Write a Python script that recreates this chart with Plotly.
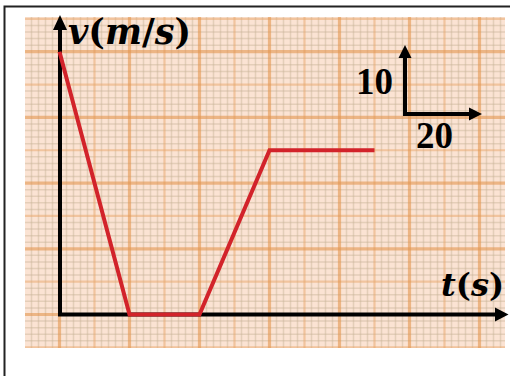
import plotly.graph_objects as go

# Velocity-time data
time_s = [0, 20, 40, 60, 90]
velocity_ms = [40, 0, 0, 25, 25]

# Scale legend values
scale_v = "10"
scale_t = "20"

W, H = 510, 376
ML, MR, MT, MB = 25, 5, 17, 28
PW, PH = W - ML - MR, H - MT - MB

# Axis ranges (graph-paper area)
X0_PX, Y0_PX = 59.5, 314.5          # pixel of t=0, v=0
SX, SY = 3.5, 6.57                  # pixels per unit
x_range = [(ML - X0_PX) / SX, (ML + PW - X0_PX) / SX]
y_range = [(Y0_PX - (MT + PH)) / SY, (Y0_PX - MT) / SY]


def px(x):
    return (x - ML) / PW


def py(y):
    return (MT + PH - y) / PH


shapes = []

# graph paper: minor, medium and major rulings
def vline(t, color, width):
    shapes.append(dict(type="line", xref="x", yref="paper", x0=t, x1=t, y0=0, y1=1,
                       line=dict(color=color, width=width), layer="below"))


def hline(v, color, width):
    shapes.append(dict(type="line", xref="paper", yref="y", x0=0, x1=1, y0=v, y1=v,
                       line=dict(color=color, width=width), layer="below"))


minor_c = "rgba(200,180,150,0.45)"
mid_c = "rgba(232,165,105,0.5)"
major_c = "rgba(226,150,80,0.6)"
t_lines = [t for t in range(-8, 128, 2)]
v_lines = [v for v in range(-5, 46)]
for t in t_lines:
    if t % 10:
        vline(t, minor_c, 1.5)
for v in v_lines:
    if v % 5:
        hline(v, minor_c, 1.5)
for t in t_lines:
    if t % 10 == 0 and t % 20:
        vline(t, mid_c, 2.2)
for v in v_lines:
    if v % 5 == 0 and v % 10:
        hline(v, mid_c, 2.2)
for t in t_lines:
    if t % 20 == 0:
        vline(t, major_c, 3.2)
for v in v_lines:
    if v % 10 == 0:
        hline(v, major_c, 3.2)

# outer frame
shapes.append(dict(type="rect", xref="paper", yref="paper",
                   x0=px(4.5), x1=px(560), y0=py(6.5), y1=py(420),
                   line=dict(color="#222", width=2), fillcolor="rgba(0,0,0,0)", layer="below"))


def seg(x0, y0, x1, y1, width=4, color="black"):
    shapes.append(dict(type="line", xref="paper", yref="paper",
                       x0=px(x0), y0=py(y0), x1=px(x1), y1=py(y1),
                       line=dict(color=color, width=width), layer="below"))


def tri(pts, color="black"):
    path = "M " + " L ".join(f"{px(a)},{py(b)}" for a, b in pts) + " Z"
    shapes.append(dict(type="path", xref="paper", yref="paper", path=path,
                       fillcolor=color, line=dict(color=color, width=0), layer="below"))


# main axes with arrowheads
seg(60, 316.5, 60, 28)
tri([(53, 30), (67, 30), (60, 15)])
seg(62, 314.5, 496, 314.5)
tri([(495, 307.5), (495, 321.5), (508.5, 314.5)])

# scale indicator arrows
seg(405, 116, 405, 56)
tri([(398.5, 58), (411.5, 58), (405, 45)])
seg(403, 114, 470, 114)
tri([(469, 107.5), (469, 120.5), (482, 114)])

fig = go.Figure()
fig.add_trace(go.Scatter(x=time_s, y=velocity_ms, mode="lines",
                         line=dict(color="#D2232A", width=4), hoverinfo="skip",
                         showlegend=False))

serif = "DejaVu Serif"
annotations = [
    dict(text="<b><i>v</i>(<i>m</i>/<i>s</i>)</b>", x=px(66), y=py(32), xanchor="left",
         yanchor="middle", font=dict(family=serif, size=35, color="black")),
    dict(text="<b><i>t</i>(<i>s</i>)</b>", x=px(506), y=py(285), xanchor="right",
         yanchor="middle", font=dict(family=serif, size=32, color="black")),
    dict(text=f"<b>{scale_v}</b>", x=px(374.5), y=py(81), xanchor="center",
         yanchor="middle", font=dict(family="Liberation Serif", size=37, color="black")),
    dict(text=f"<b>{scale_t}</b>", x=px(434), y=py(135), xanchor="center",
         yanchor="middle", font=dict(family="Liberation Serif", size=37, color="black")),
]
for a in annotations:
    a.update(xref="paper", yref="paper", showarrow=False)

fig.update_layout(
    width=W, height=H,
    margin=dict(l=ML, r=MR, t=MT, b=MB, pad=0),
    paper_bgcolor="white", plot_bgcolor="#FBE3D3",
    shapes=shapes, annotations=annotations,
    xaxis=dict(range=x_range, visible=False, fixedrange=True),
    yaxis=dict(range=y_range, visible=False, fixedrange=True),
)

fig.write_html("out.html")
